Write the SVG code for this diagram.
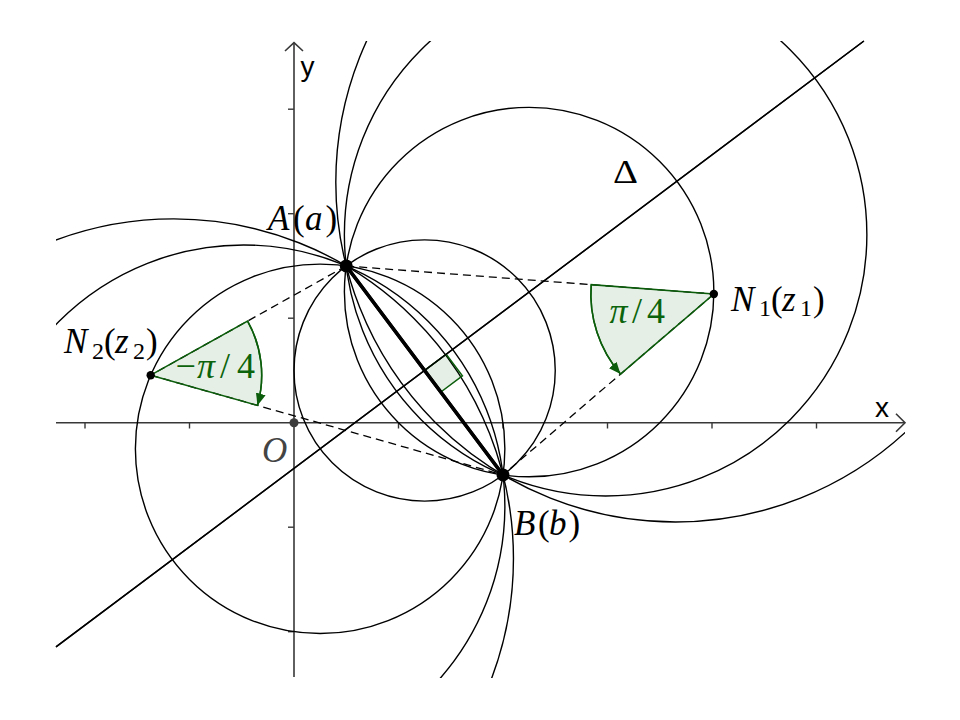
<svg xmlns="http://www.w3.org/2000/svg" width="960" height="720" viewBox="0 0 960 720">
<style>
.circ{fill:none;stroke:#000;stroke-width:1.4}
.axis{fill:none;stroke:#383838;stroke-width:1.6}
.tick{stroke:#383838;stroke-width:1.4}
.dash{fill:none;stroke:#000;stroke-width:1.3;stroke-dasharray:8 5}
.sector{fill:#006400;fill-opacity:0.1;stroke:#0b5d0b;stroke-width:1.5}
.garc{fill:none;stroke:#0b5d0b;stroke-width:1.5}
.math{font-family:"Liberation Serif","DejaVu Serif",serif;font-size:35px;fill:#000}
.it{font-style:italic}
.sub{font-size:24px}
.green{fill:#0b640b;font-size:36px}
.ax{font-family:"Liberation Sans","DejaVu Sans",sans-serif;font-size:28px;fill:#000}
</style>
<defs>
<clipPath id="view"><rect x="56" y="41" width="849" height="637"/></clipPath>
<marker id="garrow" markerUnits="userSpaceOnUse" markerWidth="12" markerHeight="10" refX="12" refY="5" orient="auto">
<path d="M0,0 L12,5 L0,10 z" fill="#0b5d0b"/>
</marker>
</defs>
<rect width="960" height="720" fill="#fff"/>

<g id="axes">
<line class="axis" x1="56" y1="422.7" x2="905" y2="422.7"/>
<polyline class="axis" points="896,413.7 905,422.7 896,431.7"/>
<line class="axis" x1="294" y1="677" x2="294" y2="42.7"/>
<polyline class="axis" points="285,51 294,42.7 303,51"/>
<g id="ticks">
<line class="tick" x1="85" y1="422.7" x2="85" y2="428.5"/>
<line class="tick" x1="189.5" y1="422.7" x2="189.5" y2="428.5"/>
<line class="tick" x1="398.5" y1="422.7" x2="398.5" y2="428.5"/>
<line class="tick" x1="503" y1="422.7" x2="503" y2="428.5"/>
<line class="tick" x1="607.5" y1="422.7" x2="607.5" y2="428.5"/>
<line class="tick" x1="712" y1="422.7" x2="712" y2="428.5"/>
<line class="tick" x1="816.5" y1="422.7" x2="816.5" y2="428.5"/>
<line class="tick" x1="288" y1="631.7" x2="294" y2="631.7"/>
<line class="tick" x1="288" y1="527.2" x2="294" y2="527.2"/>
<line class="tick" x1="288" y1="318.2" x2="294" y2="318.2"/>
<line class="tick" x1="288" y1="213.7" x2="294" y2="213.7"/>
<line class="tick" x1="288" y1="109.2" x2="294" y2="109.2"/>
</g>
<text class="ax" x="875" y="416.5">x</text>
<text class="ax" x="300.5" y="76">y</text>
</g>

<g id="circles" clip-path="url(#view)">
<circle class="circ" cx="424.625" cy="370.45" r="130.625"/>
<circle class="circ" cx="529.125" cy="292.075" r="184.732"/>
<circle class="circ" cx="320.125" cy="448.825" r="184.732"/>
<circle class="circ" cx="605.624" cy="234.701" r="261.25"/>
<circle class="circ" cx="243.626" cy="506.199" r="261.25"/>
<circle class="circ" cx="675.425" cy="182.35" r="339.625"/>
<circle class="circ" cx="173.825" cy="558.55" r="339.625"/>
</g>

<g id="connectors">
<line id="delta" x1="56" y1="646.92" x2="863.9" y2="41" stroke="#000" stroke-width="1.4"/>
<line class="dash" x1="346.25" y1="265.95" x2="713.85" y2="294"/>
<line class="dash" x1="713.85" y1="294" x2="503" y2="474.95"/>
<line class="dash" x1="346.25" y1="265.95" x2="150.7" y2="375.2"/>
<line class="dash" x1="150.7" y1="375.2" x2="503" y2="474.95"/>
<line id="AB" x1="346.25" y1="265.95" x2="503" y2="474.95" stroke="#000" stroke-width="3.5"/>
</g>

<g id="angles">
<path id="angle-N1" class="sector" d="M713.85,294 L591.21,284.64 A123,123 0 0 0 620.51,374.1 Z"/>
<path class="garc" d="M591.21,284.64 A123,123 0 0 0 620.51,374.1" marker-end="url(#garrow)"/>
<path id="angle-N2" class="sector" d="M150.7,375.2 L247.6,321.06 A111,111 0 0 1 257.5,405.44 Z"/>
<path class="garc" d="M247.6,321.06 A111,111 0 0 1 257.5,405.44" marker-end="url(#garrow)"/>
<path id="right-angle" class="sector" d="M424.625,370.45 L446.225,354.25 L462.425,375.85 L440.825,392.05 Z"/>
<line x1="346.25" y1="265.95" x2="503" y2="474.95" stroke="#000" stroke-width="3.5"/>
<line x1="56" y1="646.92" x2="863.9" y2="41" stroke="#000" stroke-width="1.4"/>
<text class="math green" y="323"><tspan class="it" x="609.5">π</tspan><tspan x="632">/</tspan><tspan x="647">4</tspan></text>
<text class="math green" y="378.3"><tspan x="175.5">−</tspan><tspan class="it" x="197">π</tspan><tspan x="220">/</tspan><tspan x="237">4</tspan></text>
</g>

<g id="O">
<circle cx="294" cy="422.7" r="4.5" fill="#3c3c3c"/>
<text class="math it" x="262" y="461.5" style="fill:#444">O</text>
</g>
<g id="A">
<circle cx="346.25" cy="265.95" r="6.5" fill="#000"/>
<text class="math" y="230"><tspan class="it" x="268">A</tspan><tspan x="293">(</tspan><tspan class="it" x="305">a</tspan><tspan x="325.5">)</tspan></text>
</g>
<g id="B">
<circle cx="503" cy="474.95" r="6.5" fill="#000"/>
<text class="math" y="535"><tspan class="it" x="514">B</tspan><tspan x="538">(</tspan><tspan class="it" x="549">b</tspan><tspan x="568.5">)</tspan></text>
</g>
<g id="N1">
<circle cx="713.85" cy="294" r="4.2" fill="#000"/>
<text class="math" y="310.5"><tspan class="it" x="731">N</tspan><tspan class="sub" x="759" y="316">1</tspan><tspan x="771" y="310.5">(</tspan><tspan class="it" x="782">z</tspan><tspan class="sub" x="800" y="316">1</tspan><tspan x="813" y="310.5">)</tspan></text>
</g>
<g id="N2">
<circle cx="150.7" cy="375.2" r="4.2" fill="#000"/>
<text class="math" y="353.3"><tspan class="it" x="64">N</tspan><tspan class="sub" x="92" y="359">2</tspan><tspan x="104" y="353.3">(</tspan><tspan class="it" x="115">z</tspan><tspan class="sub" x="133" y="359">2</tspan><tspan x="146" y="353.3">)</tspan></text>
</g>
<g id="Delta">
<text class="math" x="613" y="183" style="font-size:34px" textLength="25" lengthAdjust="spacingAndGlyphs">Δ</text>
</g>
</svg>
